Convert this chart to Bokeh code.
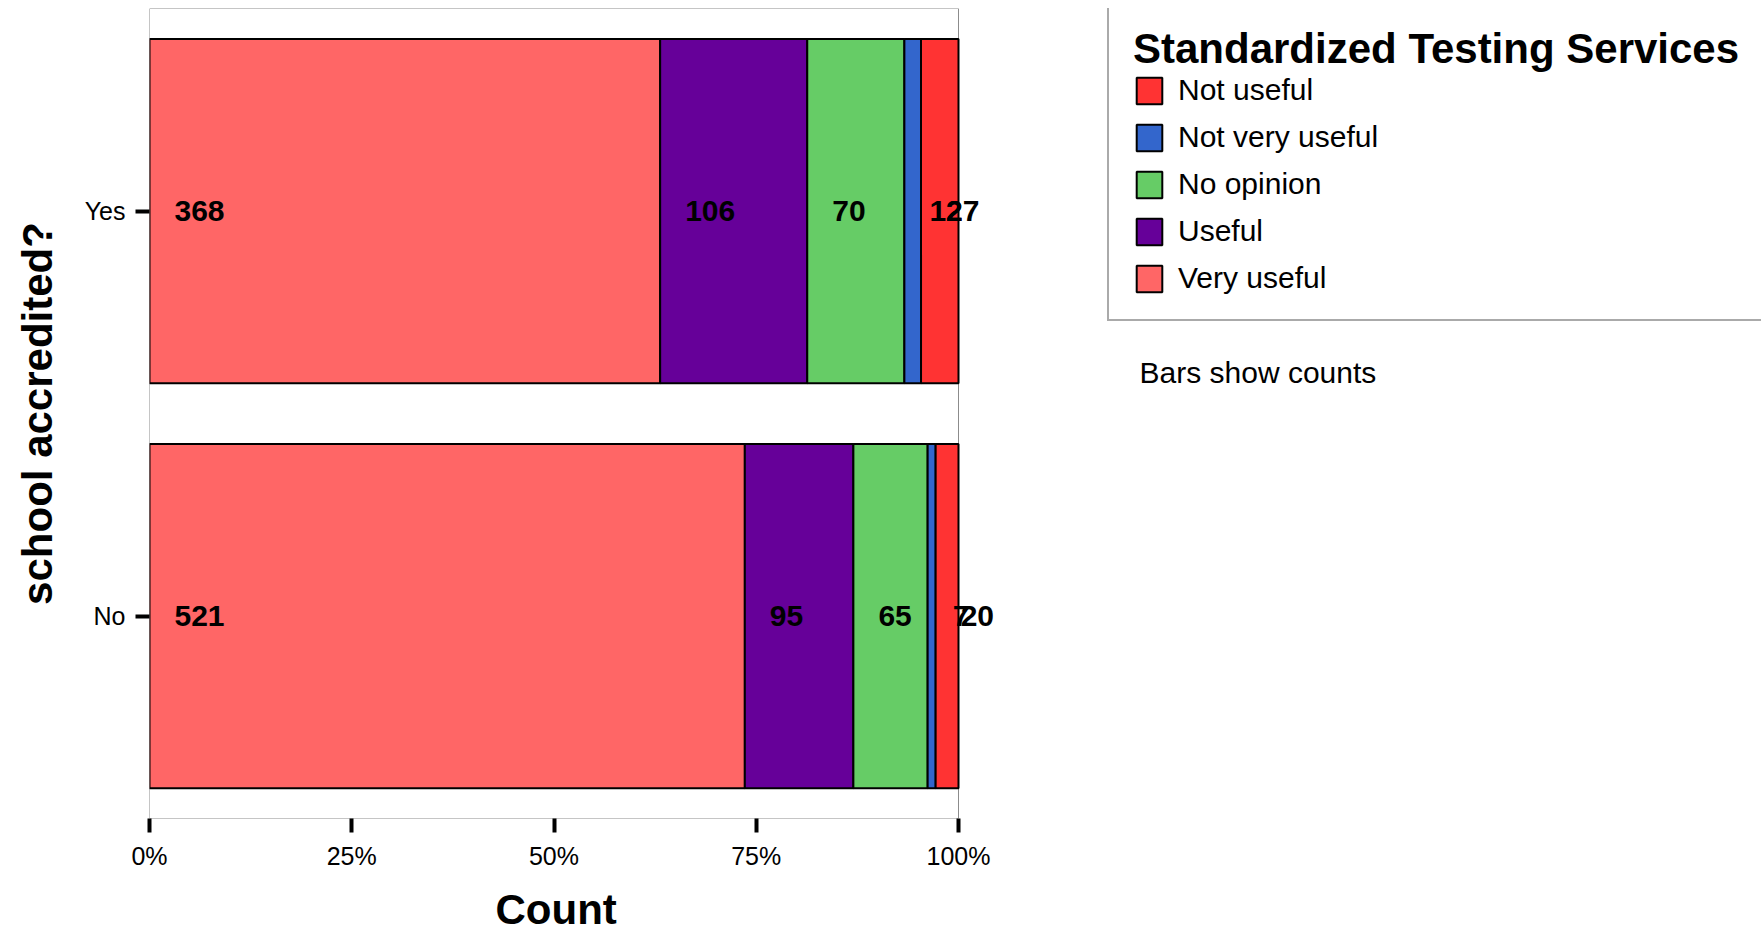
from bokeh.plotting import figure
from bokeh.models import (ColumnDataSource, FactorRange, Range1d, Legend, LegendItem,
                          LabelSet, Label, FixedTicker, Title)
from bokeh.core.properties import value
from bokeh.embed import file_html
from bokeh.resources import INLINE

# ---- data ----
groups = ["No", "Yes"]
categories = ["Very useful", "Useful", "No opinion", "Not very useful", "Not useful"]
very_useful = [521, 368]
useful = [95, 106]
no_opinion = [65, 70]
not_very_useful = [7, 12]
not_useful = [20, 27]
colors = ["#ff6666", "#660099", "#66cc66", "#3366cc", "#ff3333"]
x_ticks = [0, 0.25, 0.5, 0.75, 1.0]
x_tick_labels = ["0%", "25%", "50%", "75%", "100%"]

series = [very_useful, useful, no_opinion, not_very_useful, not_useful]
totals = [sum(s[i] for s in series) for i in range(len(groups))]

data = {"group": groups}
for name, s in zip(categories, series):
    data[name] = [v / t for v, t in zip(s, totals)]
source = ColumnDataSource(data)

# label positions: left edge of each segment
lx, ly, lt = [], [], []
for gi, g in enumerate(groups):
    start = 0.0
    for s in series:
        lx.append(start)
        ly.append(g)
        lt.append(str(s[gi]))
        start += s[gi] / totals[gi]
label_src = ColumnDataSource(dict(x=lx, y=ly, text=lt))

FONT = "Liberation Sans"

W, H = 1761, 944
FL, FR100, FT, FB = 149, 958, 8, 818   # frame left, x=100% position, top, bottom
x_end = (W - FL) / (FR100 - FL)        # frame extends to the right edge

p = figure(width=W, height=H, output_backend="svg", toolbar_location=None,
           y_range=FactorRange(factors=groups, range_padding=0),
           x_range=Range1d(0, x_end))
p.min_border_left = FL
p.min_border_right = 0
p.min_border_top = FT
p.min_border_bottom = H - FB
p.outline_line_color = None
p.background_fill_color = "white"
p.xgrid.grid_line_color = None
p.ygrid.grid_line_color = None

# gray plot-area box spanning 0..100%
p.quad(left=[0], right=[1], bottom=[0], top=[len(groups)], fill_color=None,
       line_color="#8c8c8c", line_width=1)

rends = p.hbar_stack(categories, y="group", height=0.85, fill_color=colors,
                     line_color="black", line_width=2, source=source)

labels = LabelSet(x="x", y="y", text="text", source=label_src, x_offset=25,
                  text_baseline="middle", text_align="left",
                  text_font=value(FONT), text_font_style="bold",
                  text_font_size="30px", text_color="black")
p.add_layout(labels)

p.xaxis.ticker = FixedTicker(ticks=x_ticks)
p.xaxis.major_label_overrides = {t: l for t, l in zip(x_ticks, x_tick_labels)}
p.xaxis.axis_line_color = None
p.xaxis.major_tick_line_color = "black"
p.xaxis.major_tick_line_width = 4
p.xaxis.major_tick_out = 14
p.xaxis.major_tick_in = 0
p.xaxis.minor_tick_line_color = None
p.xaxis.major_label_standoff = 9
p.xaxis.major_label_text_font = FONT
p.xaxis.major_label_text_font_size = "25px"
p.xaxis.major_label_text_color = "black"

# x-axis title centred under the 0..100% span
count_title = Title(text="Count", align="left", offset=346, standoff=23,
                    text_font=FONT, text_font_size="42px", text_font_style="bold",
                    text_color="black")
p.add_layout(count_title, "below")

p.yaxis.axis_line_color = None
p.yaxis.major_tick_line_color = "black"
p.yaxis.major_tick_line_width = 4
p.yaxis.major_tick_out = 14
p.yaxis.major_tick_in = 0
p.yaxis.major_label_standoff = 10
p.yaxis.major_label_text_font = FONT
p.yaxis.major_label_text_font_size = "25px"
p.yaxis.major_label_text_color = "black"
p.yaxis.axis_label = "school accredited?"
p.yaxis.axis_label_text_font = FONT
p.yaxis.axis_label_text_font_size = "42px"
p.yaxis.axis_label_text_font_style = "bold"
p.yaxis.axis_label_text_color = "black"
p.yaxis.axis_label_standoff = 21

order = [4, 3, 2, 1, 0]
legend = Legend(items=[LegendItem(label=categories[i], renderers=[rends[i]]) for i in order],
                location=(1107 - FL, FB - 321), margin=0, padding=24,
                title="Standardized Testing Services",
                title_text_font=FONT, title_text_font_size="42px",
                title_text_font_style="bold", title_text_color="black",
                title_standoff=0,
                label_text_font=FONT, label_text_font_size="30px",
                label_text_color="black",
                glyph_width=32, glyph_height=33, label_height=33,
                label_standoff=13, spacing=13,
                border_line_color="#555555", border_line_width=2,
                background_fill_color="white", background_fill_alpha=1)
p.add_layout(legend)

note = Label(x=1139 - FL, y=FB - 372, x_units="screen", y_units="screen",
             text="Bars show counts",
             text_font=FONT, text_font_size="30px", text_color="black",
             text_baseline="middle", text_align="left")
p.add_layout(note)

open("out.html", "w").write(file_html(p, INLINE))
